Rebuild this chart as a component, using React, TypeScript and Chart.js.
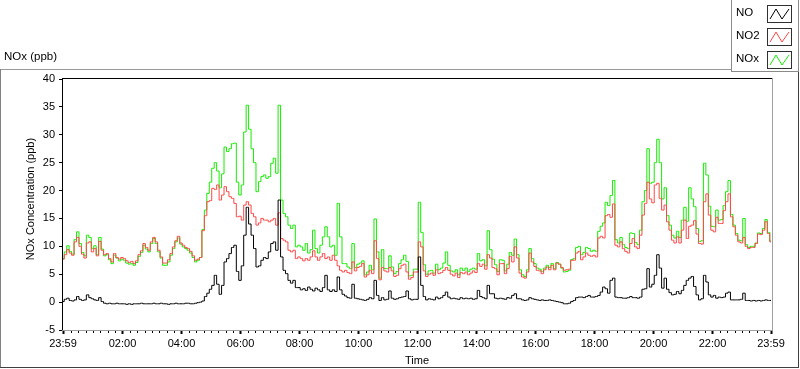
import { useEffect, useRef } from "react";
import { Chart, registerables } from "chart.js";

Chart.register(...registerables);

const FONT = '"Liberation Sans", Arial, sans-serif';

// sampling: one reading every 5 minutes, starting 23:59
const SAMPLE_MINUTES = 5;

const noValues = [
  0.1, 0.5, 0.7, 0.3, 0.2, 0.4, 1.0, 0.5, 0.3, 0.4, 1.3, 0.8,
  0.6, 0.4, 0.3, 0.8, 0.1, -0.2, -0.3, -0.2, -0.3, -0.3, -0.2, -0.3,
  -0.3, -0.3, -0.4, -0.3, -0.4, -0.3, -0.3, -0.3, -0.2, -0.3, -0.3, -0.3,
  -0.3, -0.2, -0.3, -0.3, -0.2, -0.3, -0.3, -0.4, -0.3, -0.3, -0.2, -0.3,
  -0.3, -0.3, -0.2, -0.2, -0.3, -0.3, -0.2, -0.1, 0.0, 0.2, 1.0, 1.6,
  2.3, 3.0, 4.8, 3.2, 1.4, 3.0, 7.2, 7.8, 8.7, 9.8, 10.2, 5.5,
  3.9, 6.5, 12.0, 17.0, 14.0, 12.0, 9.6, 6.3, 6.5, 7.5, 8.0, 7.8,
  9.0, 10.5, 10.8, 9.3, 18.3, 8.1, 5.7, 5.1, 3.9, 3.4, 3.9, 2.6,
  2.6, 2.2, 2.4, 2.1, 2.7, 2.3, 2.0, 2.5, 2.2, 1.9, 2.6, 4.8,
  2.2, 1.9, 2.2, 1.9, 4.5, 2.2, 1.4, 1.1, 0.8, 0.7, 3.2, 0.7,
  0.6, 0.5, 0.4, 0.3, 0.5, 0.8, 0.6, 3.9, 1.2, 0.3, 0.8, 0.4,
  0.5, 2.0, 0.7, 0.5, 0.6, 0.8, 0.9, 1.0, 2.0, 0.6, 0.4, 0.5,
  0.5, 8.1, 3.0, 1.0, 0.4, 0.6, 0.5, 0.4, 0.9, 0.6, 0.8, 1.2,
  1.8, 0.9, 0.6, 0.7, 0.6, 0.5, 0.8, 0.6, 0.7, 0.6, 0.7, 0.5,
  0.6, 2.1, 1.0, 0.8, 0.6, 3.0, 1.5, 1.5, 0.7, 0.6, 0.7, 0.6,
  0.5, 0.8, 0.7, 1.2, 1.5, 0.6, 0.6, 0.4, 0.3, 0.4, 0.8, 0.6,
  0.5, 0.4, 0.3, 0.4, 0.3, 0.3, 0.4, 0.3, 0.2, 0.1, 0.0, -0.1,
  -0.3, -0.3, -0.2, 0.1, 0.3, 0.8, 0.9, 0.9, 0.8, 1.0, 1.2, 0.9,
  0.9, 1.0, 1.2, 1.8, 2.7, 2.4, 1.6, 3.9, 4.3, 0.9, 0.8, 0.8,
  0.7, 0.7, 0.8, 1.0, 0.8, 0.8, 0.7, 0.9, 2.3, 2.4, 6.0, 2.7,
  3.2, 4.8, 8.5, 6.1, 2.5, 4.3, 2.3, 1.7, 1.3, 1.4, 1.9, 1.5,
  2.1, 3.0, 3.9, 4.3, 4.6, 2.8, 1.3, 0.4, 0.6, 4.8, 3.6, 1.3,
  0.9, 1.2, 0.7, 0.9, 0.8, 0.9, 1.6, 1.8, 0.4, 0.4, 0.4, 0.4,
  0.5, 1.6, 0.3, 0.3, 0.2, 0.3, 0.2, 0.3, 0.2, 0.3, 0.4, 0.3, 0.3,
];

const no2Values = [
  7.7, 8.5, 9.4, 8.8, 8.4, 10.8, 11.6, 10.0, 8.6, 7.9, 10.6, 10.8,
  9.0, 9.6, 8.3, 10.9, 9.3, 8.5, 8.7, 7.8, 7.2, 8.7, 8.0, 7.7,
  8.0, 7.8, 7.4, 7.1, 7.3, 6.9, 7.4, 8.5, 9.2, 10.5, 9.8, 9.3,
  10.8, 11.6, 10.8, 9.3, 8.1, 7.0, 7.0, 7.6, 8.7, 9.9, 11.0, 11.8,
  10.6, 10.2, 9.8, 9.6, 9.1, 8.3, 7.5, 7.7, 8.0, 12.8, 15.5, 18.0,
  18.2, 20.4, 20.2, 21.0, 18.3, 19.2, 20.7, 19.8, 18.9, 18.6, 17.7, 15.3,
  15.4, 14.7, 17.4, 18.0, 17.4, 15.9, 15.3, 13.8, 14.2, 15.0, 14.7, 14.7,
  14.4, 14.7, 15.0, 13.8, 16.0, 11.4, 11.1, 10.8, 9.3, 9.0, 9.3, 7.8,
  8.1, 7.8, 7.4, 7.8, 7.5, 8.1, 9.2, 8.1, 7.5, 8.1, 8.7, 7.8,
  8.1, 7.5, 8.4, 7.5, 6.5, 5.7, 5.4, 5.7, 5.3, 5.1, 7.2, 5.6,
  6.2, 6.4, 6.9, 4.5, 4.9, 5.7, 5.1, 11.0, 7.8, 4.0, 6.2, 5.6,
  5.4, 6.2, 5.6, 4.6, 4.8, 6.0, 6.6, 6.8, 5.4, 4.1, 4.4, 5.4,
  5.4, 10.8, 9.9, 5.6, 4.6, 5.0, 5.2, 4.8, 5.8, 5.1, 5.3, 5.7,
  6.2, 5.7, 5.0, 4.7, 5.2, 4.4, 5.3, 5.1, 5.4, 4.9, 5.2, 5.6,
  5.3, 6.9, 6.4, 6.8, 5.9, 8.5, 7.9, 6.2, 6.0, 4.9, 6.9, 6.9,
  5.1, 6.0, 8.2, 7.2, 9.9, 7.9, 5.2, 4.5, 4.3, 5.4, 8.8, 7.2,
  6.4, 5.7, 5.6, 5.1, 5.8, 6.3, 5.8, 6.6, 5.8, 7.0, 6.8, 6.2,
  5.7, 5.8, 5.9, 7.5, 7.5, 8.8, 9.1, 7.6, 8.1, 8.8, 8.4, 8.2,
  8.4, 8.1, 11.5, 11.8, 11.5, 15.5, 15.7, 15.2, 17.6, 10.2, 9.9, 10.8,
  9.6, 9.1, 8.8, 10.5, 11.4, 9.9, 9.6, 12.0, 15.6, 17.7, 21.5, 18.5,
  17.8, 21.0, 21.3, 18.6, 16.5, 17.4, 14.4, 12.9, 11.1, 10.6, 11.7, 10.6,
  12.9, 14.7, 11.4, 13.6, 13.8, 14.6, 12.2, 10.5, 10.4, 18.0, 19.4, 15.6,
  12.9, 12.6, 15.2, 14.1, 14.1, 16.4, 18.0, 19.4, 15.3, 13.5, 12.0, 10.8,
  10.6, 11.6, 10.0, 9.6, 9.8, 9.8, 10.5, 12.2, 12.1, 12.9, 14.4, 12.3, 10.8,
];

const noxValues = [
  7.8, 9.0, 10.1, 9.1, 8.6, 11.2, 12.6, 10.5, 8.9, 8.3, 12.0, 11.6,
  9.6, 10.1, 8.5, 11.6, 9.5, 8.3, 8.5, 7.6, 6.9, 8.4, 7.9, 7.4,
  7.7, 7.5, 7.0, 6.8, 6.9, 6.6, 7.1, 8.2, 8.9, 10.2, 9.5, 9.0,
  10.5, 11.4, 10.5, 9.0, 7.9, 6.6, 6.6, 7.2, 8.4, 9.6, 10.8, 11.5,
  10.4, 9.9, 9.6, 9.3, 8.8, 8.0, 7.2, 7.5, 8.0, 13.0, 16.5, 19.5,
  21.5, 24.0, 25.0, 23.5, 20.5, 23.0, 27.8, 27.0, 27.5, 28.4, 28.5, 21.5,
  19.2, 21.0, 30.5, 35.3, 31.0, 27.5, 25.0, 19.8, 21.6, 22.5, 22.8, 22.2,
  22.5, 24.9, 25.8, 23.1, 35.3, 18.3, 15.9, 15.3, 13.8, 13.2, 13.8, 9.9,
  10.2, 9.9, 9.3, 10.5, 8.8, 9.4, 12.9, 9.6, 8.8, 10.2, 11.7, 13.5,
  11.7, 9.9, 10.2, 8.4, 17.7, 11.7, 6.9, 6.9, 6.3, 6.0, 10.5, 6.2,
  6.8, 7.0, 7.4, 4.9, 5.4, 6.6, 5.8, 14.9, 9.0, 4.3, 9.4, 6.0,
  6.0, 8.3, 6.3, 5.1, 5.5, 6.9, 7.6, 8.4, 7.3, 4.7, 4.8, 5.9,
  5.9, 17.9, 12.5, 6.7, 5.0, 5.6, 5.7, 5.2, 6.8, 5.8, 6.1, 7.0,
  9.0, 6.6, 5.6, 5.4, 5.8, 4.9, 6.1, 5.7, 6.1, 5.5, 5.9, 6.1,
  5.9, 8.7, 7.4, 7.6, 6.5, 12.8, 9.4, 7.7, 6.7, 5.5, 7.6, 7.5,
  5.6, 6.8, 8.9, 8.4, 11.3, 8.5, 5.8, 4.9, 4.6, 5.8, 9.6, 7.8,
  6.9, 6.1, 5.9, 5.5, 6.1, 6.6, 6.2, 6.9, 6.0, 7.1, 6.8, 6.1,
  5.4, 5.5, 5.7, 7.6, 7.8, 9.8, 10.0, 8.5, 8.9, 9.8, 9.6, 9.1,
  9.3, 9.1, 12.7, 13.6, 14.2, 17.9, 17.3, 19.1, 21.8, 11.2, 10.6, 11.6,
  10.3, 9.8, 9.6, 12.4, 12.3, 10.7, 10.3, 12.9, 18.0, 20.0, 27.5, 21.3,
  21.5, 25.0, 29.2, 25.0, 18.5, 20.5, 15.5, 13.8, 12.0, 11.5, 12.7, 11.6,
  14.7, 17.0, 14.5, 20.5, 18.5, 17.1, 13.2, 10.9, 11.0, 24.9, 22.8, 17.2,
  13.6, 13.5, 16.5, 14.7, 14.8, 17.3, 19.8, 21.8, 15.7, 13.8, 12.3, 11.1,
  11.0, 15.0, 10.3, 9.8, 10.0, 10.0, 10.6, 12.4, 12.3, 13.2, 14.8, 12.5, 11.0,
];

// x axis: minutes after 23:59
const xMajorMinutes = [0, 121, 241, 361, 481, 601, 721, 841, 961, 1081, 1201, 1321, 1440];
const xMajorLabels = ["23:59", "02:00", "04:00", "06:00", "08:00", "10:00", "12:00", "14:00", "16:00", "18:00", "20:00", "22:00", "23:59"];
const xMinorFirst = 16;
const xMinorStep = 15;

const yMin = -5;
const yMax = 40;
const yStep = 5;

const seriesNames = ["NO", "NO2", "NOx"];
const seriesColors = ["#000000", "#ff4646", "#14ee00"];
const seriesValues = [noValues, no2Values, noxValues];

const chartTitle = "NOx (ppb)";
const xTitle = "Time";
const yTitle = "NOx Concentration (ppb)";

const framePlugin = {
  id: "labviewFrame",
  beforeDraw(chart: any) {
    const ctx = chart.ctx as CanvasRenderingContext2D;
    const W = chart.width;
    const H = chart.height;
    ctx.save();
    ctx.fillStyle = "#ffffff";
    ctx.fillRect(0, 0, W, H);
    // outer frame
    ctx.fillStyle = "#9a9a9a";
    ctx.fillRect(0, 69, W - 1, 1);
    ctx.fillStyle = "#808080";
    ctx.fillRect(0, 69, 1, H - 70);
    ctx.fillStyle = "#404040";
    ctx.fillRect(0, H - 2, W - 1, 1);
    ctx.fillRect(W - 2, 69, 1, H - 70);
    // top-left caption
    ctx.fillStyle = "#000";
    ctx.font = `11.5px ${FONT}`;
    ctx.textBaseline = "middle";
    ctx.textAlign = "left";
    ctx.fillText(chartTitle, 4, 57);
    ctx.restore();
  },
  afterDatasetsDraw(chart: any) {
    const ctx = chart.ctx as CanvasRenderingContext2D;
    const { left, right, top, bottom } = chart.chartArea;
    const xs = chart.scales.x;
    ctx.save();
    // plot area border
    ctx.fillStyle = "#000";
    ctx.fillRect(Math.round(left) - 1, Math.round(top) - 1, Math.round(right) - Math.round(left) + 3, 1);
    ctx.fillRect(Math.round(left) - 1, Math.round(top) - 1, 1, Math.round(bottom) - Math.round(top) + 2);
    ctx.fillStyle = "#a0a0a0";
    ctx.fillRect(Math.round(right) + 1, Math.round(top) - 1, 1, Math.round(bottom) - Math.round(top) + 2);
    ctx.fillRect(Math.round(left) - 1, Math.round(bottom), Math.round(right) - Math.round(left) + 3, 1);
    // minor ticks
    ctx.fillStyle = "#000";
    for (let m = xMinorFirst; m < 1440; m += xMinorStep) {
      if (xMajorMinutes.includes(m)) continue;
      const px = Math.round(xs.getPixelForValue(m));
      ctx.fillRect(px, Math.round(bottom) + 1, 1, 2);
    }
    // axis titles
    ctx.fillStyle = "#000";
    ctx.font = `11px ${FONT}`;
    ctx.textBaseline = "middle";
    ctx.textAlign = "center";
    ctx.fillText(xTitle, (left + right) / 2, 361);
    ctx.translate(31, 199);
    ctx.rotate(-Math.PI / 2);
    ctx.fillText(yTitle, 0, 0);
    ctx.restore();

    // legend
    ctx.save();
    const lx = 731, ly = 0, lw = 68, lh = 72;
    ctx.fillStyle = "#ffffff";
    ctx.fillRect(lx, ly, lw, lh);
    ctx.strokeStyle = "#8a8a8a";
    ctx.lineWidth = 1;
    ctx.strokeRect(lx + 0.5, ly - 0.5, lw - 1, lh);
    const rows = [13, 36, 59];
    seriesNames.forEach((name, i) => {
      const cy = rows[i];
      ctx.fillStyle = "#000";
      ctx.font = `11.5px ${FONT}`;
      ctx.textBaseline = "middle";
      ctx.textAlign = "left";
      ctx.fillText(name, 736, cy);
      const bx = 767, bw = 24, bh = 17, by = cy - 8;
      ctx.strokeStyle = "#303030";
      ctx.strokeRect(bx + 0.5, by + 0.5, bw, bh);
      ctx.strokeStyle = seriesColors[i];
      ctx.beginPath();
      ctx.moveTo(bx + 3, by + bh - 3);
      ctx.lineTo(bx + 9, by + 4);
      ctx.lineTo(bx + 15, by + bh - 3);
      ctx.lineTo(bx + 22, by + 4);
      ctx.stroke();
    });
    ctx.restore();
  },
};

export default function App() {
  const canvasRef = useRef<HTMLCanvasElement | null>(null);

  useEffect(() => {
    const canvas = canvasRef.current;
    if (!canvas) return;
    const chart = new Chart(canvas, {
      type: "line",
      data: {
        datasets: seriesNames.map((name, i) => ({
          label: name,
          data: seriesValues[i].map((v, k) => ({ x: k * SAMPLE_MINUTES, y: v })),
          borderColor: seriesColors[i],
          backgroundColor: seriesColors[i],
          borderWidth: 1,
          pointRadius: 0,
          tension: 0,
          stepped: "middle" as const,
          fill: false,
        })),
      },
      options: {
        animation: false,
        responsive: false,
        devicePixelRatio: 1,
        events: [],
        layout: { padding: { top: 79, right: 29, left: 0, bottom: 0 } },
        plugins: {
          legend: { display: false },
          tooltip: { enabled: false },
          title: { display: false },
        },
        scales: {
          x: {
            type: "linear",
            min: 0,
            max: 1440,
            afterBuildTicks: (s: any) => {
              s.ticks = xMajorMinutes.map((v) => ({ value: v }));
            },
            afterFit: (s: any) => {
              s.height = 39;
            },
            ticks: {
              autoSkip: false,
              maxRotation: 0,
              minRotation: 0,
              padding: 3,
              color: "#000",
              font: { family: FONT, size: 11 },
              callback: (v: any) => {
                const idx = xMajorMinutes.indexOf(Number(v));
                return idx >= 0 ? xMajorLabels[idx] : "";
              },
            },
            grid: {
              drawOnChartArea: false,
              drawTicks: true,
              tickLength: 4,
              tickWidth: 2,
              tickColor: "#000",
            },
            border: { display: false },
          },
          y: {
            type: "linear",
            min: yMin,
            max: yMax,
            afterFit: (s: any) => {
              s.width = 63;
            },
            ticks: {
              stepSize: yStep,
              padding: 4,
              color: "#000",
              font: { family: FONT, size: 11 },
            },
            grid: {
              drawOnChartArea: false,
              drawTicks: true,
              tickLength: 4,
              tickWidth: 1,
              tickColor: "#000",
            },
            border: { display: false },
          },
        },
      },
      plugins: [framePlugin],
    });
    return () => chart.destroy();
  }, []);

  return (
    <div style={{ position: "fixed", left: 0, top: 0, width: 800, height: 369 }}>
      <canvas ref={canvasRef} width={800} height={369} style={{ width: 800, height: 369, display: "block" }} />
    </div>
  );
}
